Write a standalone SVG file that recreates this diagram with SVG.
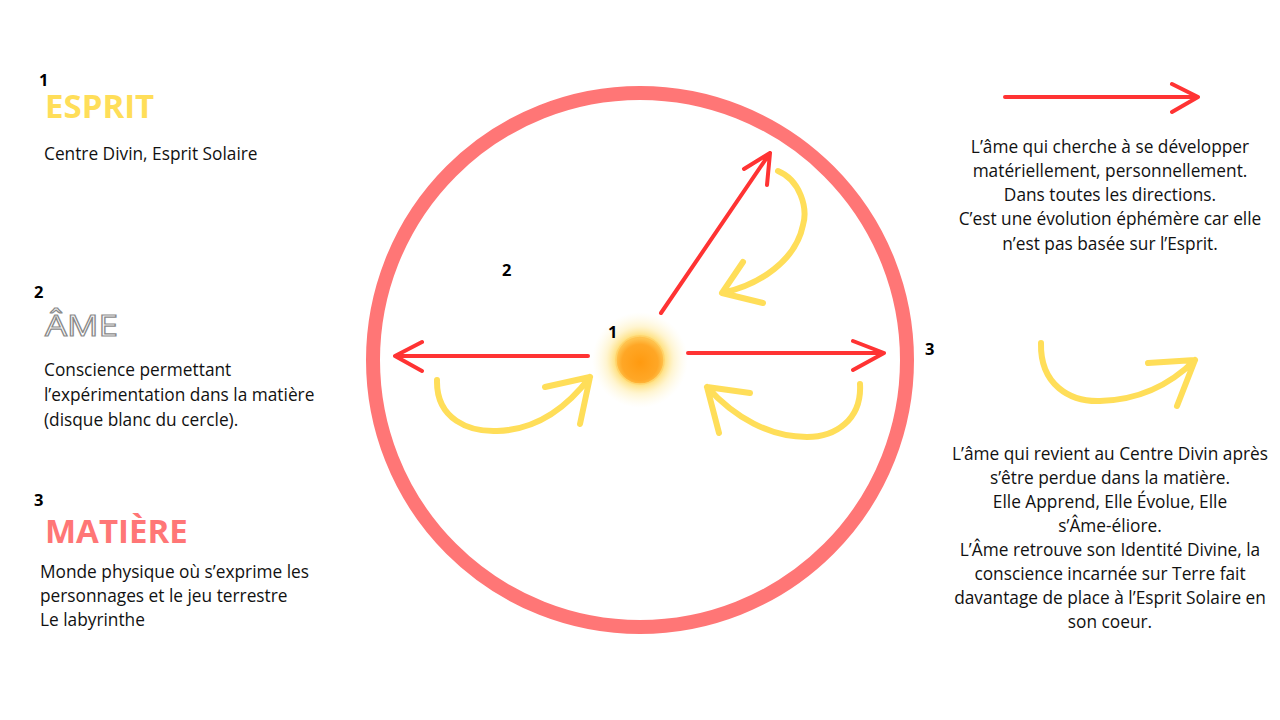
<svg xmlns="http://www.w3.org/2000/svg" width="1280" height="720" viewBox="0 0 1280 720">
<defs>
<style>
.t{font-family:"Open Sans","Liberation Sans",sans-serif;font-size:17.3px;fill:#111}
.n{font-family:"Open Sans","Liberation Sans",sans-serif;font-size:16.5px;font-weight:700;fill:#000}
.h{font-family:"Open Sans","Liberation Sans",sans-serif;font-size:33px;font-weight:700}
.c{text-anchor:middle}
.red{fill:none;stroke:#ff3333;stroke-width:4;stroke-linecap:round;stroke-linejoin:round}
.yel{fill:none;stroke:#ffde59;stroke-width:6;stroke-linecap:round;stroke-linejoin:round}
</style>
<radialGradient id="glow" cx="0.5" cy="0.5" r="0.5">
<stop offset="0" stop-color="#ffbb22" stop-opacity="1"/>
<stop offset="0.45" stop-color="#ffcc33" stop-opacity="0.8"/>
<stop offset="0.7" stop-color="#ffe27a" stop-opacity="0.35"/>
<stop offset="1" stop-color="#fff3c0" stop-opacity="0"/>
</radialGradient>
<radialGradient id="core" cx="0.5" cy="0.55" r="0.5">
<stop offset="0" stop-color="#ff9a10"/>
<stop offset="0.75" stop-color="#ffa726"/>
<stop offset="1" stop-color="#ffc24d"/>
</radialGradient>
</defs>
<rect width="1280" height="720" fill="#fff"/>

<g id="circle">
<circle cx="640" cy="360" r="267" fill="none" stroke="#ff7676" stroke-width="14"/>
</g>

<g id="sun">
<circle cx="640" cy="360" r="48" fill="url(#glow)"/>
<circle cx="640" cy="360" r="24" fill="url(#core)" stroke="#ffd36a" stroke-width="1.5"/>
</g>

<g id="connectors">
<path class="red" d="M588 356 L395 356 M422 342 L395 356 L422 371"/>
<path class="red" d="M688 353 L884 353 M853 341 L884 353 L853 370"/>
<path class="red" d="M661 313 L770 153 M744 169 L770 153 L767 185"/>
<path class="yel" d="M437 380 C436 420 470 432 497 431 C535 430 565 410 590 377 M545 387 L590 377 L580 424"/>
<path class="yel" d="M860 384 C862 420 835 437 807 437 C770 437 735 418 707 387 M750 393 L707 387 L719 433"/>
<path class="yel" d="M778 171 C800 180 808 208 803 225 C796 260 760 285 722 293 M743 262 L722 293 L763 303"/>
</g>

<g id="labels">
<text class="n" x="502" y="276">2</text>
<text class="n" x="608" y="338">1</text>
<text class="n" x="925" y="355">3</text>
</g>

<g id="legend-esprit">
<text class="n" x="39" y="86">1</text>
<text class="h" x="45" y="118" fill="#ffde59">ESPRIT</text>
<text class="t" x="44" y="160">Centre Divin, Esprit Solaire</text>
</g>

<g id="legend-ame">
<text class="n" x="34" y="298">2</text>
<text x="45" y="336" font-family="'Open Sans','Liberation Sans',sans-serif" font-size="30" fill="#fff" stroke="#8a8a8a" stroke-width="1.2" textLength="73" lengthAdjust="spacingAndGlyphs">ÂME</text>
<text class="t" x="44" y="376">Conscience permettant</text>
<text class="t" x="44" y="401">l’expérimentation dans la matière</text>
<text class="t" x="44" y="426">(disque blanc du cercle).</text>
</g>

<g id="legend-matiere">
<text class="n" x="34" y="506">3</text>
<text class="h" x="45" y="543" fill="#ff7676">MATIÈRE</text>
<text class="t" x="40" y="578">Monde physique où s’exprime les</text>
<text class="t" x="40" y="602">personnages et le jeu terrestre</text>
<text class="t" x="40" y="626">Le labyrinthe</text>
</g>

<g id="key-red">
<path class="red" d="M1005 97 L1198 97 M1172 84 L1198 97 L1172 112"/>
<text class="t c" x="1110" y="153">L’âme qui cherche à se développer</text>
<text class="t c" x="1110" y="177">matériellement, personnellement.</text>
<text class="t c" x="1110" y="201">Dans toutes les directions.</text>
<text class="t c" x="1110" y="225">C’est une évolution éphémère car elle</text>
<text class="t c" x="1110" y="250">n’est pas basée sur l’Esprit.</text>
</g>

<g id="key-yellow">
<path class="yel" d="M1041 343 C1040 385 1070 402 1100 401 C1140 400 1170 385 1195 360 M1148 363 L1195 360 L1177 406"/>
<text class="t c" x="1110" y="460">L’âme qui revient au Centre Divin après</text>
<text class="t c" x="1110" y="484">s’être perdue dans la matière.</text>
<text class="t c" x="1110" y="508">Elle Apprend, Elle Évolue, Elle</text>
<text class="t c" x="1110" y="532">s’Âme-éliore.</text>
<text class="t c" x="1110" y="556">L’Âme retrouve son Identité Divine, la</text>
<text class="t c" x="1110" y="580">conscience incarnée sur Terre fait</text>
<text class="t c" x="1110" y="604">davantage de place à l’Esprit Solaire en</text>
<text class="t c" x="1110" y="628">son coeur.</text>
</g>
</svg>
